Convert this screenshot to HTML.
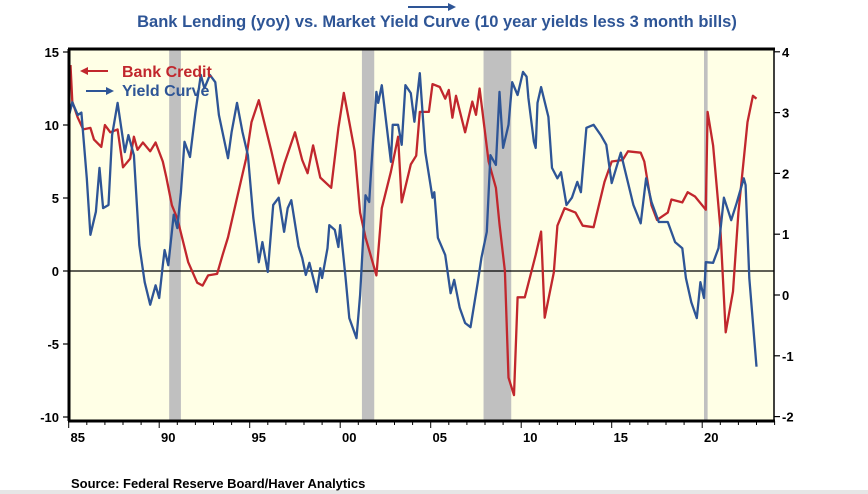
<!DOCTYPE html>
<html><head><meta charset="utf-8"><style>
html,body{margin:0;padding:0;background:#fff;width:868px;height:494px;overflow:hidden}
svg text{font-family:"Liberation Sans",Arial,sans-serif}
</style></head><body>
<svg id="chart" width="868" height="494" xmlns="http://www.w3.org/2000/svg">
<rect x="0" y="490" width="868" height="4" fill="#e6e6e6"/>
<g id="g"></g>
</svg>
<script>
const creditYears=[1985.1,1985.2,1985.5,1985.8,1986.2,1986.4,1986.8,1987.0,1987.3,1987.7,1988.0,1988.4,1988.6,1988.8,1989.1,1989.5,1989.8,1990.2,1990.4,1990.7,1991.0,1991.6,1992.1,1992.4,1992.7,1993.2,1993.5,1993.8,1994.3,1994.8,1995.1,1995.5,1995.8,1996.2,1996.6,1996.9,1997.5,1997.9,1998.2,1998.5,1998.9,1999.5,1999.9,2000.2,2000.5,2000.8,2001.1,2001.4,2002.0,2002.3,2002.8,2003.2,2003.4,2003.9,2004.2,2004.4,2004.9,2005.1,2005.5,2005.8,2006.0,2006.2,2006.4,2006.9,2007.3,2007.5,2007.7,2008.2,2008.6,2008.8,2009.1,2009.3,2009.6,2009.8,2010.2,2010.8,2011.1,2011.3,2011.8,2012.0,2012.4,2013.0,2013.4,2014.0,2014.6,2015.0,2015.6,2015.9,2016.6,2016.8,2017.2,2017.5,2018.1,2018.3,2018.9,2019.2,2019.6,2020.2,2020.3,2020.6,2021.0,2021.3,2021.7,2022.0,2022.5,2022.8,2023.0];
const creditValues=[14.1,11.6,10.5,9.7,9.8,9.0,8.5,10,9.5,9.7,7.1,7.7,9.2,8.3,8.8,8.2,8.8,7.5,6.4,4.5,3.6,0.6,-0.8,-1,-0.3,-0.2,1.1,2.3,5,7.7,10.2,11.7,10.2,8.2,6.0,7.3,9.5,7.6,6.7,8.6,6.4,5.7,9.8,12.2,10.2,8.2,4,2.3,-0.3,4.3,6.8,9.2,4.7,7.3,7.9,10.9,10.9,12.8,12.6,11.8,12.4,10.5,12,9.5,11.6,10.7,12.5,7.5,5.7,3.2,0,-7.3,-8.5,-1.8,-1.8,1.1,2.7,-3.2,-0.1,3.1,4.3,4.0,3.1,3.0,6.1,7.5,7.6,8.2,8.1,7.5,4.5,3.5,4.0,4.9,4.7,5.4,5.1,4.2,10.9,8.6,3.0,-4.2,-1.4,4.0,10.2,12,11.8];
const curveYears=[1985.0,1985.2,1985.5,1985.7,1986.0,1986.2,1986.5,1986.7,1986.9,1987.2,1987.4,1987.7,1988.1,1988.3,1988.6,1988.9,1989.2,1989.5,1989.8,1990.0,1990.2,1990.3,1990.5,1990.8,1991.0,1991.2,1991.4,1991.7,1992.0,1992.3,1992.5,1992.8,1993.1,1993.3,1993.8,1994.0,1994.3,1994.6,1994.9,1995.2,1995.5,1995.7,1996.0,1996.3,1996.6,1996.9,1997.1,1997.3,1997.7,1997.9,1998.1,1998.3,1998.7,1998.9,1999.0,1999.3,1999.4,1999.7,1999.9,2000.0,2000.3,2000.5,2000.9,2001.1,2001.4,2001.6,2001.7,2002.0,2002.1,2002.3,2002.8,2002.9,2003.2,2003.4,2003.6,2003.9,2004.1,2004.4,2004.7,2005.1,2005.2,2005.4,2005.8,2006.1,2006.3,2006.6,2006.9,2007.2,2007.6,2007.8,2008.1,2008.3,2008.6,2008.8,2009.0,2009.3,2009.5,2009.8,2010.1,2010.3,2010.4,2010.7,2010.8,2010.9,2011.1,2011.5,2011.7,2012.0,2012.2,2012.5,2012.8,2013.1,2013.3,2013.6,2014.0,2014.4,2014.7,2015.0,2015.5,2015.7,2016.2,2016.6,2016.9,2017.2,2017.6,2018.1,2018.5,2018.9,2019.1,2019.4,2019.7,2019.9,2020.1,2020.2,2020.6,2020.9,2021.2,2021.6,2021.9,2022.3,2022.4,2022.6,2023.0];
const curveValues=[2.93,3.17,2.96,3.0,1.92,0.99,1.37,2.09,1.43,1.48,2.63,3.16,2.35,2.63,2.3,0.82,0.21,-0.16,0.16,-0.05,0.49,0.74,0.49,1.32,1.1,1.69,2.52,2.27,3.0,3.62,3.4,3.62,3.5,2.96,2.25,2.68,3.16,2.68,2.3,1.27,0.54,0.87,0.38,1.48,1.6,1.04,1.43,1.56,0.8,0.61,0.33,0.53,0.05,0.44,0.28,0.77,1.15,1.07,0.79,1.15,0.28,-0.38,-0.71,0,1.64,1.53,2.02,3.34,3.16,3.45,2.19,2.8,2.8,2.47,3.45,3.32,2.85,3.65,2.35,1.6,1.69,0.94,0.66,0.03,0.25,-0.21,-0.46,-0.53,0.21,0.61,1.04,2.3,2.14,3.34,2.42,2.8,3.5,3.29,3.67,3.59,3.24,2.52,2.42,3.16,3.42,2.93,2.09,1.92,2.02,1.48,1.6,1.86,1.69,2.75,2.8,2.63,2.47,1.84,2.34,2.09,1.48,1.18,1.92,1.53,1.2,1.2,0.87,0.77,0.28,-0.12,-0.38,0.21,-0.05,0.54,0.53,0.77,1.6,1.23,1.51,1.92,1.81,0.28,-1.18];
const leftTicks=[15,10,5,0,-5,-10];
const rightTickAll=[4,3,2,1,0,-1,-2];
const xLabels=["85","90","95","00","05","10","15","20"];
const recessions=[[1990.55,1991.2],[2001.2,2001.88],[2007.92,2009.45],[2020.1,2020.3]];

const L=69,R=774,T=49,B=421;
const X=y=>68.7+(y-1985)*18.1;
const YL=v=>271-v*14.6;
const YR=v=>295-v*60.8;
const g=document.getElementById('g');
const NS='http://www.w3.org/2000/svg';
function mk(tag,attrs,text){const e=document.createElementNS(NS,tag);for(const k in attrs)e.setAttribute(k,attrs[k]);if(text!==undefined)e.textContent=text;g.appendChild(e);return e;}

let e=mk('rect',{x:L,y:T,width:R-L,height:B-T,fill:'#ffffe6'});


recessions.forEach(r=>{const el=mk('rect',{x:X(r[0]),y:T,width:Math.max(2,X(r[1])-X(r[0])),height:B-T,fill:'#c0c0c0'});

});
e=mk('line',{x1:L,x2:R,y1:YL(0),y2:YL(0),stroke:'#000','stroke-width':1.2});



function path(xs,vs,yf,col,name){let d='';xs.forEach((x,i)=>{d+=(i?'L':'M')+X(x).toFixed(1)+','+yf(vs[i]).toFixed(1);});
const p=mk('path',{d:d,fill:'none',stroke:col,'stroke-width':2.3,'stroke-linejoin':'round'});

}
path(creditYears,creditValues,YL,'#c1272d','bank-credit-line');
path(curveYears,curveValues,YR,'#2e5596','yield-curve-line');

e=mk('rect',{x:L,y:T,width:R-L,height:B-T,fill:'none',stroke:'#000','stroke-width':1.5});


e=mk('line',{x1:L-1,x2:R+1,y1:T,y2:T,stroke:'#000','stroke-width':3});


e=mk('line',{x1:L-1,x2:R+1,y1:B,y2:B,stroke:'#000','stroke-width':3});


e=mk('line',{x1:L,x2:L,y1:T,y2:B,stroke:'#000','stroke-width':3});



leftTicks.forEach(v=>{const y=YL(v);mk('line',{x1:L-6,x2:L,y1:y,y2:y,stroke:'#000','stroke-width':1.2});
const t=mk('text',{x:L-10,y:y+5,'text-anchor':'end','font-size':13,'font-weight':'bold'},String(v));

});
rightTickAll.forEach(v=>{const y=YR(v);mk('line',{x1:R,x2:R+6,y1:y,y2:y,stroke:'#000','stroke-width':1.2});
const t=mk('text',{x:R+8,y:y+5,'text-anchor':'start','font-size':13,'font-weight':'bold'},String(v));

});
for(let yr=1985;yr<=2024;yr++){const x=X(yr);mk('line',{x1:x,x2:x,y1:B,y2:B+(yr%5===0?7:4),stroke:'#000','stroke-width':1});}
xLabels.forEach((s,i)=>{const t=mk('text',{x:X(1985+i*5+0.5),y:442,'text-anchor':'middle','font-size':13,'font-weight':'bold'},s);

});

mk('line',{x1:84,x2:108,y1:71,y2:71,stroke:'#c1272d','stroke-width':2});
mk('path',{d:'M80,71 L88,67 L88,75Z',fill:'#c1272d'});
let t=mk('text',{x:122,y:77,'font-size':16,'font-weight':'bold',fill:'#c1272d'},'Bank Credit');


mk('line',{x1:86,x2:109,y1:91,y2:91,stroke:'#2e5596','stroke-width':2});
mk('path',{d:'M114,91 L106,87 L106,95Z',fill:'#2e5596'});
t=mk('text',{x:122,y:96,'font-size':16,'font-weight':'bold',fill:'#2e5596'},'Yield Curve');



mk('line',{x1:408,x2:450,y1:7,y2:7,stroke:'#2e5596','stroke-width':2});
mk('path',{d:'M456,7 L448,3 L448,11Z',fill:'#2e5596'});
t=mk('text',{x:437,y:27,'text-anchor':'middle','font-size':16.5,'font-weight':'bold',fill:'#2e5596'},'Bank Lending (yoy) vs. Market Yield Curve (10 year yields less 3 month bills)');


t=mk('text',{x:71,y:488,'font-size':13,'font-weight':'bold'},'Source:  Federal Reserve Board/Haver Analytics');


</script>
</body></html>
